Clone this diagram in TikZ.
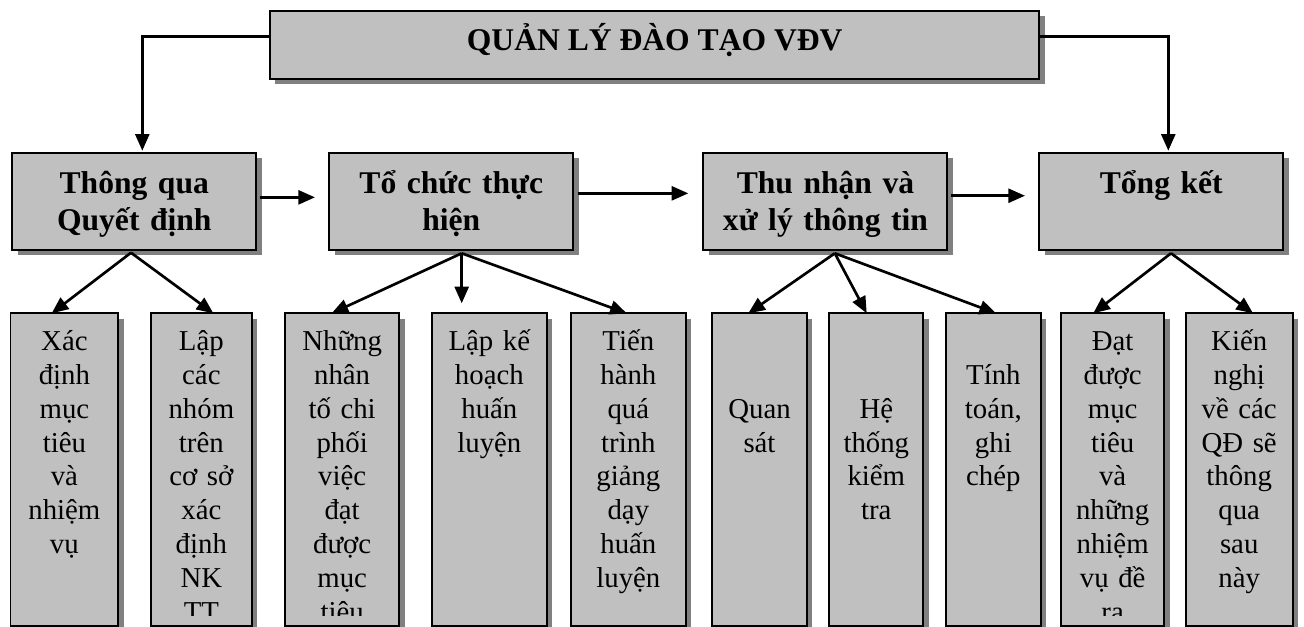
\documentclass[tikz,border=0pt]{standalone}
\usepackage{fontspec}
\setmainfont{Liberation Serif}
\usetikzlibrary{arrows.meta,shadows,calc}
\definecolor{boxgray}{HTML}{C0C0C0}
\definecolor{shadegray}{HTML}{808080}
\tikzset{
  box/.style={draw=black, line width=1.4pt, fill=boxgray, inner sep=0pt, outer sep=0pt,
    anchor=north west,
    drop shadow={shadow xshift=4pt, shadow yshift=-4pt, fill=shadegray, opacity=1}},
  bigtext/.style={anchor=base, inner sep=0pt, text width=172pt, align=center,
    font=\fontsize{23.7pt}{27.5pt}\selectfont\bfseries},
  smalltext/.style={anchor=base, inner sep=0pt, text width=78pt, align=center,
    font=\fontsize{21.6pt}{25.35pt}\selectfont},
  arr/.style={line width=2pt, -{Triangle[length=12.5pt,width=10.5pt]}}
}
\newcommand\lowbox[5]{%
  \node[box, minimum width={(#3-#2)*0.75pt}, minimum height={312.7*0.75pt}] (#1) at (#2,313.3) {};
  \begin{scope}
    \clip (#2+2,315) rectangle (#3-2,615);
    \node[smalltext] at ({(#2+#3)/2},#4) {#5};
  \end{scope}}
\newcommand\midbox[4]{%
  \node[box, minimum width={244*0.75pt}, minimum height={97.3*0.75pt}] (#1) at (#2,152.7) {};
  \node[bigtext] at (#3,193.5) {#4};}
\begin{document}
\begin{tikzpicture}[x={(0.75pt,0)}, y={(0,-0.75pt)}]
\useasboundingbox (0,0) rectangle (1304,627);
% top box
\node[box, minimum width={769.3*0.75pt}, minimum height={68.3*0.75pt}] (top) at (270,10.7) {};
\node[anchor=base, inner sep=0pt, font=\fontsize{23.7pt}{27.5pt}\selectfont\bfseries] (title) at (654.7,50.7) {QUẢN LÝ ĐÀO TẠO VĐV};
% level 2
\midbox{b1}{12.3}{134.3}{Thông qua\\Quyết định}
\midbox{b2}{329.3}{451.3}{Tổ chức thực\\hiện}
\midbox{b3}{703.3}{825.5}{Thu nhận và\\xử lý thông tin}
\midbox{b4}{1039.3}{1161.3}{Tổng kết}
% level 3
\lowbox{la}{10.5}{118.3}{350.7}{Xác\\định\\mục\\tiêu\\và\\nhiệm\\vụ}
\lowbox{lb}{151}{251.7}{350.7}{Lập\\các\\nhóm\\trên\\cơ sở\\xác\\định\\NK\\TT}
\lowbox{lc}{285}{399.3}{350.7}{Những\\nhân\\tố chi\\phối\\việc\\đạt\\được\\mục\\tiêu}
\lowbox{ld}{432}{546.7}{350.7}{Lập kế\\hoạch\\huấn\\luyện}
\lowbox{le}{571}{685.7}{350.7}{Tiến\\hành\\quá\\trình\\giảng\\dạy\\huấn\\luyện}
\lowbox{lf}{712.3}{806.7}{418.3}{Quan\\sát}
\lowbox{lg}{829.3}{923.3}{418.3}{Hệ\\thống\\kiểm\\tra}
\lowbox{lh}{946}{1040.7}{384.5}{Tính\\toán,\\ghi\\chép}
\lowbox{li}{1061}{1164.3}{350.7}{Đạt\\được\\mục\\tiêu\\và\\những\\nhiệm\\vụ đề\\ra}
\lowbox{lj}{1185.7}{1292.7}{350.7}{Kiến\\nghị\\về các\\QĐ sẽ\\thông\\qua\\sau\\này}
% top connectors
\draw[arr] ($(top.west)+(0,-8.15)$) -| ($(b1.north)+(8,-2)$);
\draw[arr] ($(top.east)+(0,-8.15)$) -| ($(b4.north)+(7,-2)$);
% horizontal connectors
\draw[arr] ($(b1.east)+(3.7,-4)$) -- ($(b2.west)+(-14.3,-4)$);
\draw[arr] ($(b2.east)+(4.4,-8)$) -- ($(b3.west)+(-15,-8)$);
\draw[arr] ($(b3.east)+(4,-5.6)$) -- ($(b4.west)+(-14.3,-5.6)$);
% level 2 -> level 3
\coordinate (o1) at ($(b1.south)+(-3.3,2.7)$);
\coordinate (o2) at ($(b2.south)+(10.4,3.3)$);
\coordinate (o3) at ($(b3.south)+(9.5,3.3)$);
\coordinate (o4) at ($(b4.south)+(9.7,3.3)$);
\draw[arr] (o1) -- ($(la.north)+(-12.7,0)$);
\draw[arr] (o1) -- ($(lb.north)+(12,0)$);
\draw[arr] (o2) -- ($(lc.north)+(-10.5,0)$);
\draw[arr] (o2) -- ($(o2 |- ld.north)+(0,-10)$);
\draw[arr] (o2) -- ($(le.north)+(-1.6,0)$);
\draw[arr] (o3) -- ($(lf.north)+(-11.2,0)$);
\draw[arr] (o3) -- ($(lg.north)+(-9.6,0)$);
\draw[arr] (o3) -- ($(lh.north)+(2.7,0)$);
\draw[arr] (o4) -- ($(li.north)+(-19.4,0)$);
\draw[arr] (o4) -- ($(lj.north)+(13.8,0)$);
\end{tikzpicture}
\end{document}
